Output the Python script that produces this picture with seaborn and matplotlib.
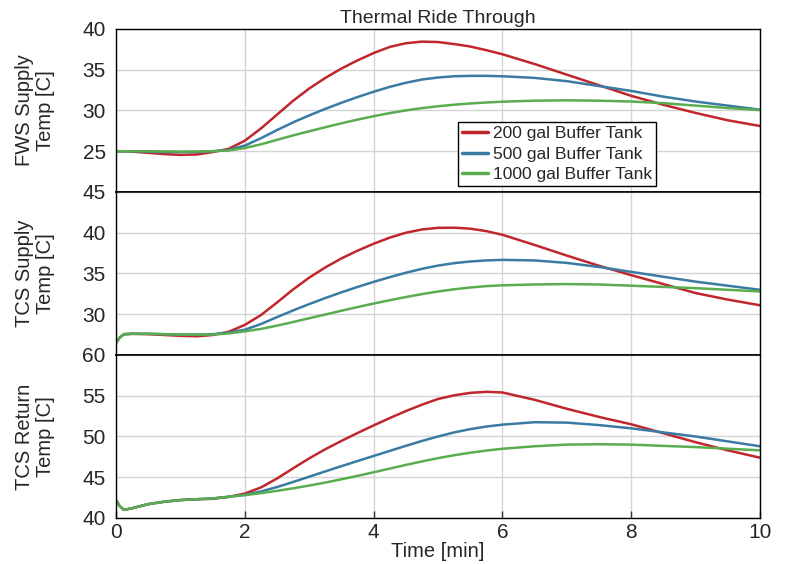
import matplotlib
matplotlib.use("Agg")
import matplotlib.pyplot as plt
import seaborn as sns
import pandas as pd

# ---------------- data ----------------
time_min = [0, 0.05, 0.12, 0.25, 0.5, 0.75, 1, 1.25, 1.5, 1.75,
            2, 2.25, 2.5, 2.75, 3, 3.25, 3.5, 3.75, 4, 4.25, 4.5, 4.75,
            5, 5.25, 5.5, 5.75, 6, 6.5, 7, 7.5, 8, 8.5, 9, 9.5, 10]

series_names = ["200 gal Buffer Tank", "500 gal Buffer Tank", "1000 gal Buffer Tank"]

fws_200 = [25.0, 25.0, 25.0, 24.95, 24.8, 24.65, 24.55, 24.6, 24.9, 25.3,
           26.3, 27.8, 29.5, 31.2, 32.7, 34.0, 35.15, 36.15, 37.05, 37.8, 38.25, 38.45,
           38.4, 38.15, 37.85, 37.4, 36.9, 35.7, 34.4, 33.1, 31.8, 30.7, 29.7, 28.8, 28.1]
fws_500 = [25.0, 25.0, 25.0, 25.0, 24.95, 24.9, 24.9, 24.9, 25.0, 25.15,
           25.7, 26.6, 27.6, 28.55, 29.4, 30.2, 30.95, 31.65, 32.3, 32.9, 33.4, 33.8,
           34.05, 34.2, 34.25, 34.25, 34.2, 34.0, 33.6, 33.0, 32.4, 31.7, 31.1, 30.6, 30.1]
fws_1000 = [25.0, 25.0, 25.0, 25.0, 25.0, 24.98, 24.95, 24.97, 25.0, 25.1,
            25.4, 25.85, 26.4, 26.95, 27.45, 27.95, 28.43, 28.88, 29.3, 29.68, 30.01, 30.29,
            30.52, 30.71, 30.86, 30.98, 31.08, 31.2, 31.25, 31.2, 31.1, 30.9, 30.6, 30.3, 30.05]

tcs_sup_200 = [26.5, 27.1, 27.55, 27.6, 27.55, 27.45, 27.35, 27.3, 27.45, 27.85,
               28.7, 29.9, 31.45, 33.05, 34.5, 35.75, 36.85, 37.8, 38.65, 39.4, 40.0, 40.4,
               40.6, 40.62, 40.5, 40.2, 39.75, 38.5, 37.2, 35.95, 34.8, 33.7, 32.6, 31.8, 31.1]
tcs_sup_500 = [26.5, 27.1, 27.55, 27.6, 27.6, 27.55, 27.5, 27.5, 27.55, 27.75,
               28.1, 28.8, 29.65, 30.47, 31.25, 31.99, 32.69, 33.35, 33.97, 34.55, 35.09, 35.57,
               35.97, 36.27, 36.47, 36.6, 36.67, 36.6, 36.3, 35.8, 35.2, 34.6, 34.0, 33.5, 33.0]
tcs_sup_1000 = [26.5, 27.1, 27.55, 27.6, 27.6, 27.55, 27.5, 27.5, 27.5, 27.65,
                27.9, 28.2, 28.6, 29.05, 29.51, 29.97, 30.43, 30.88, 31.31, 31.72, 32.11, 32.47,
                32.79, 33.06, 33.28, 33.45, 33.55, 33.65, 33.7, 33.65, 33.5, 33.35, 33.2, 33.0, 32.8]

tcs_ret_200 = [42.2, 41.5, 41.0, 41.2, 41.7, 42.0, 42.2, 42.3, 42.35, 42.6,
               43.0, 43.75, 44.85, 46.1, 47.32, 48.44, 49.46, 50.43, 51.36, 52.26, 53.12, 53.9,
               54.6, 55.05, 55.35, 55.48, 55.4, 54.5, 53.4, 52.4, 51.5, 50.4, 49.3, 48.3, 47.4]
tcs_ret_500 = [42.2, 41.5, 41.0, 41.2, 41.7, 42.0, 42.2, 42.3, 42.4, 42.6,
               42.85, 43.25, 43.8, 44.42, 45.07, 45.72, 46.36, 46.99, 47.61, 48.23, 48.85, 49.45,
               50.0, 50.5, 50.9, 51.22, 51.45, 51.75, 51.7, 51.4, 51.0, 50.5, 50.0, 49.4, 48.8]
tcs_ret_1000 = [42.2, 41.5, 41.0, 41.2, 41.7, 42.0, 42.2, 42.3, 42.4, 42.6,
                42.8, 43.05, 43.33, 43.64, 43.98, 44.35, 44.75, 45.17, 45.61, 46.06, 46.51, 46.94,
                47.34, 47.7, 48.01, 48.27, 48.49, 48.8, 49.0, 49.05, 49.0, 48.85, 48.7, 48.5, 48.3]

panel_labels = ["FWS Supply\nTemp [C]", "TCS Supply\nTemp [C]", "TCS Return\nTemp [C]"]
panel_ylims = [(20, 40), (25, 45), (40, 60)]
panel_yticks = [[25, 30, 35, 40], [30, 35, 40, 45], [40, 45, 50, 55, 60]]
x_ticks = [0, 2, 4, 6, 8, 10]

title = "Thermal Ride Through"
x_label = "Time [min]"

colors = ["#c0272d", "#3a7aa3", "#5aad4f"]

panels = [
    [fws_200, fws_500, fws_1000],
    [tcs_sup_200, tcs_sup_500, tcs_sup_1000],
    [tcs_ret_200, tcs_ret_500, tcs_ret_1000],
]

# ---------------- plotting ----------------
sns.set_theme(style="white")
plt.rcParams["font.family"] = ["Liberation Sans", "DejaVu Sans"]

fig, axes = plt.subplots(3, 1, figsize=(7.85, 5.64), dpi=100, sharex=True)
fig.subplots_adjust(left=0.148, right=0.968, top=0.9486, bottom=0.0816, hspace=0)

palette = dict(zip(series_names, colors))

for i, (ax, vals) in enumerate(zip(axes, panels)):
    frames = []
    for name, v in zip(series_names, vals):
        frames.append(pd.DataFrame({"Time": time_min, "Temp": v, "Series": name}))
    df = pd.concat(frames, ignore_index=True)
    sns.lineplot(data=df, x="Time", y="Temp", hue="Series", palette=palette,
                 linewidth=1.8, ax=ax, legend=(i == 0), sort=False)
    ax.set_xlim(0, 10)
    ax.set_ylim(*panel_ylims[i])
    ax.set_yticks(panel_yticks[i])
    ax.set_xticks(x_ticks)
    ax.grid(True, color="#d4d4d4", linewidth=1.0)
    ax.set_axisbelow(True)
    ax.set_xlabel("")
    ax.set_ylabel(panel_labels[i], fontsize=14.5, linespacing=1.15)
    ax.yaxis.set_label_coords(-0.095, 0.5)
    ax.tick_params(axis="y", labelsize=15, length=4, width=1, direction="out", color="#333333")
    ax.tick_params(axis="x", labelsize=15, length=5, width=1, direction="in", color="#333333",
                   top=False, bottom=True)
    for side, sp in ax.spines.items():
        sp.set_color("black")
        sp.set_visible(True)
        sp.set_linewidth(1.0)
    if i > 0:
        ax.spines["top"].set_linewidth(1.1)
    if i < 2:
        ax.spines["bottom"].set_linewidth(1.1)
        ax.tick_params(axis="x", labelbottom=False, length=0)

axes[2].set_xlabel(x_label, fontsize=14.5, labelpad=0)
axes[0].set_title(title, fontsize=14, pad=4)

leg = axes[0].legend(loc="upper left", bbox_to_anchor=(0.531, 0.43), borderaxespad=0,
                     fontsize=12.5, handlelength=1.5, handletextpad=0.25,
                     labelspacing=0.3, borderpad=0.25, fancybox=False, framealpha=1,
                     edgecolor="black")
leg.get_frame().set_linewidth(1.0)
for line in leg.get_lines():
    line.set_linewidth(2.5)

fig.savefig("out.png", dpi=100, facecolor="white")
